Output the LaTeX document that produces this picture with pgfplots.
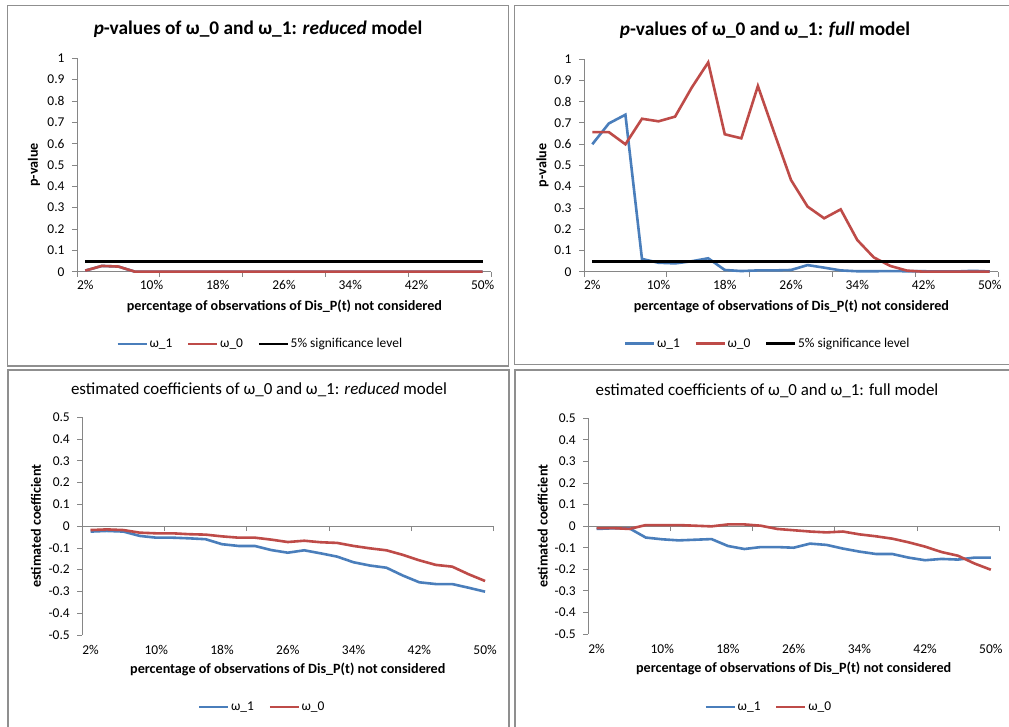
\documentclass[border=0pt]{standalone}
\usepackage{fontspec}
\setmainfont{Carlito}
\usepackage{pgfplots}
\pgfplotsset{compat=1.18}
\usepackage{pgfplotstable}

\definecolor{xlblue}{HTML}{4A7EBB}
\definecolor{xlred}{HTML}{BE4B48}
\definecolor{axgray}{HTML}{868686}
\definecolor{framegray}{HTML}{8F8F8F}

% x = category index (0 -> 2%, 1 -> 4%, ..., 24 -> 50%)
\pgfplotstableread{
x w1 w0
0 0.005 0.005
1 0.027 0.027
2 0.024 0.024
3 0.000 0.000
4 0.000 0.000
5 0.000 0.000
6 0.000 0.000
7 0.000 0.000
8 0.000 0.000
9 0.000 0.000
10 0.000 0.000
11 0.000 0.000
12 0.000 0.000
13 0.000 0.000
14 0.000 0.000
15 0.000 0.000
16 0.000 0.000
17 0.000 0.000
18 0.000 0.000
19 0.000 0.000
20 0.000 0.000
21 0.000 0.000
22 0.000 0.000
23 0.000 0.000
24 0.000 0.000
}\pred

\pgfplotstableread{
x w1 w0
0 0.599 0.656
1 0.697 0.656
2 0.738 0.599
3 0.060 0.719
4 0.042 0.707
5 0.039 0.729
6 0.049 0.865
7 0.063 0.984
8 0.008 0.646
9 0.003 0.627
10 0.006 0.873
11 0.006 0.650
12 0.008 0.431
13 0.031 0.306
14 0.019 0.251
15 0.006 0.293
16 0.002 0.149
17 0.002 0.067
18 0.003 0.027
19 0.002 0.005
20 0.002 0.000
21 0.001 0.000
22 0.001 0.000
23 0.004 0.000
24 0.001 0.000
}\pfull

\pgfplotstableread{
x w1 w0
0 -0.025 -0.018
1 -0.022 -0.015
2 -0.025 -0.018
3 -0.045 -0.030
4 -0.053 -0.033
5 -0.053 -0.033
6 -0.056 -0.037
7 -0.060 -0.039
8 -0.083 -0.047
9 -0.091 -0.053
10 -0.091 -0.053
11 -0.110 -0.062
12 -0.122 -0.073
13 -0.111 -0.067
14 -0.125 -0.074
15 -0.140 -0.077
16 -0.166 -0.091
17 -0.181 -0.102
18 -0.191 -0.111
19 -0.227 -0.132
20 -0.258 -0.157
21 -0.266 -0.178
22 -0.266 -0.186
23 -0.283 -0.221
24 -0.301 -0.252
}\cred

\pgfplotstableread{
x w1 w0
0 -0.013 -0.009
1 -0.010 -0.009
2 -0.010 -0.013
3 -0.053 0.005
4 -0.061 0.005
5 -0.066 0.005
6 -0.063 0.002
7 -0.060 -0.001
8 -0.092 0.008
9 -0.106 0.008
10 -0.097 0.002
11 -0.097 -0.013
12 -0.100 -0.019
13 -0.081 -0.025
14 -0.087 -0.029
15 -0.104 -0.025
16 -0.118 -0.038
17 -0.129 -0.047
18 -0.129 -0.058
19 -0.146 -0.075
20 -0.158 -0.095
21 -0.152 -0.120
22 -0.155 -0.137
23 -0.146 -0.173
24 -0.146 -0.202
}\cfull

\newcommand{\tickfont}{\fontsize{13.5}{15}\selectfont}
\newcommand{\labfont}{\fontsize{14.2}{16}\selectfont\bfseries}

\pgfplotsset{
  xlbase/.style={
    scale only axis,
    xmin=-0.5, xmax=24.5,
    axis y line*=left,
    axis line style={draw=axgray, line width=0.75bp, -},
    tick style={draw=axgray, line width=0.75bp},
    tick align=outside,
    major tick length=5bp,
    ticklabel style={font=\tickfont, text=black},
    xticklabel style={yshift=-5bp},
    yticklabel style={xshift=-4bp},
    label style={font=\labfont},
    legend columns=-1,
    legend cell align=left,
    legend image code/.code={\draw[##1, line width=2.7bp] (0bp,0bp) -- (29bp,0bp);},
    legend style={draw=none, fill=none, font=\tickfont, anchor=center,
      inner sep=0pt,
      nodes={inner xsep=1.5bp},
      /tikz/every even column/.append style={column sep=13bp}},
    clip=false,
  },
  topx/.style={
    axis x line*=bottom,
    xtick={-0.5,4.5,9.5,14.5,19.5,24.5},
    xticklabels={},
    extra x ticks={0,4,8,12,16,20,24},
    extra x tick labels={2\%,10\%,18\%,26\%,34\%,42\%,50\%},
    extra x tick style={major tick length=0pt},
  },
  pvy/.style={
    ymin=0, ymax=1,
    ytick={0,0.1,0.2,0.3,0.4,0.5,0.6,0.7,0.8,0.9,1},
    yticklabels={0,0.1,0.2,0.3,0.4,0.5,0.6,0.7,0.8,0.9,1},
    ylabel={p-value},
  },
  botx/.style={
    axis x line*=bottom,
    x axis line style={draw=none},
    xtick style={draw=none},
    xtick={0,4,8,12,16,20,24},
    xticklabels={2\%,10\%,18\%,26\%,34\%,42\%,50\%},
    xticklabel style={yshift=3bp},
  },
  coy/.style={
    ymin=-0.5, ymax=0.5,
    ytick={-0.5,-0.4,-0.3,-0.2,-0.1,0,0.1,0.2,0.3,0.4,0.5},
    yticklabels={-0.5,-0.4,-0.3,-0.2,-0.1,0,0.1,0.2,0.3,0.4,0.5},
    ylabel={estimated coefficient},
  },
  zeroaxis/.style={
    scale only axis,
    xmin=-0.5, xmax=24.5, ymin=-0.5, ymax=0.5,
    axis x line=middle, axis y line=none,
    x axis line style={draw=axgray, line width=0.75bp, -},
    tick style={draw=axgray, line width=0.75bp},
    xtick={-0.5,4.5,9.5,14.5,19.5,24.5},
    xticklabels={},
    ytick=\empty,
    tick align=outside,
    major tick length=5bp,
  },
  blue line/.style={xlblue, line width=2.6bp},
  red line/.style={xlred, line width=2.6bp},
}

\begin{document}
\begin{tikzpicture}[x=1bp,y=1bp]
\useasboundingbox (0,0) rectangle (1009,727);
\fill[white] (0,0) rectangle (1009,727);

% panel frames
\draw[framegray, line width=1.6bp] (7.5,721.5) rectangle (508.5,361);
\draw[framegray, line width=1.6bp] (1012,721.5) -- (514.5,721.5) -- (514.5,362.5) -- (1012,362.5);
\draw[framegray, line width=1.6bp] (8,-3) -- (8,357) -- (509,357) -- (509,-3);
\draw[framegray, line width=1.6bp] (1012,357) -- (515,357) -- (515,-3);

% titles
\node[font=\fontsize{19.4}{22}\selectfont\bfseries] at (258,698)
  {\textit{p}-values of ω\_0 and ω\_1: \textit{reduced} model};
\node[font=\fontsize{19.4}{22}\selectfont\bfseries] at (765,697)
  {\textit{p}-values of ω\_0 and ω\_1: \textit{full} model};
\node[font=\fontsize{17}{20}\selectfont] at (259,337)
  {estimated coefficients of ω\_0 and ω\_1: \textit{reduced} model};
\node[font=\fontsize{17}{20}\selectfont] at (767,336)
  {estimated coefficients of ω\_0 and ω\_1: full model};

% ---------- panel 1 ----------
\begin{axis}[xlbase, topx, pvy,
  width=414bp, height=213.4bp, at={(77bp,455.3bp)}, anchor=south west,
  xlabel={percentage of observations of Dis\_P(t) not considered},
  xlabel style={at={(axis description cs:0.501,-0.165)}, anchor=center},
  ylabel style={at={(axis description cs:-0.104,0.5)}, anchor=center},
  legend style={at={(axis description cs:0.442,-0.339)}},
]
\addplot[blue line] table[x=x,y=w1] {\pred};
\addplot[red line] table[x=x,y=w0] {\pred};
\addplot[black, line width=3bp] coordinates {(0,0.05) (24,0.05)};
\legend{ω\_1, ω\_0, 5\% significance level}
\end{axis}

% ---------- panel 2 ----------
\begin{axis}[xlbase, topx, pvy,
  width=414bp, height=212.7bp, at={(584bp,455.3bp)}, anchor=south west,
  xlabel={percentage of observations of Dis\_P(t) not considered},
  xlabel style={at={(axis description cs:0.501,-0.164)}, anchor=center},
  ylabel style={at={(axis description cs:-0.1,0.5)}, anchor=center},
  legend style={at={(axis description cs:0.443,-0.339)}},
]
\addplot[blue line] table[x=x,y=w1] {\pfull};
\addplot[red line] table[x=x,y=w0] {\pfull};
\addplot[black, line width=3bp] coordinates {(0,0.05) (24,0.05)};
\legend{ω\_1, ω\_0, 5\% significance level}
\end{axis}

% ---------- panel 3 ----------
\begin{axis}[zeroaxis, width=411bp, height=217.7bp, at={(82.3bp,92bp)}, anchor=south west]
\addplot[draw=none] coordinates {(0,0)};
\end{axis}
\begin{axis}[xlbase, botx, coy,
  width=411bp, height=217.7bp, at={(82.3bp,92bp)}, anchor=south west,
  xlabel={percentage of observations of Dis\_P(t) not considered},
  xlabel style={at={(axis description cs:0.5,-0.156)}, anchor=center},
  ylabel style={at={(axis description cs:-0.113,0.5)}, anchor=center},
  legend style={at={(axis description cs:0.437,-0.331)}},
]
\addplot[blue line] table[x=x,y=w1] {\cred};
\addplot[red line] table[x=x,y=w0] {\cred};
\legend{ω\_1, ω\_0}
\end{axis}

% ---------- panel 4 ----------
\begin{axis}[zeroaxis, width=410.7bp, height=215.7bp, at={(588.3bp,93bp)}, anchor=south west]
\addplot[draw=none] coordinates {(0,0)};
\end{axis}
\begin{axis}[xlbase, botx, coy,
  width=410.7bp, height=215.7bp, at={(588.3bp,93bp)}, anchor=south west,
  xlabel={percentage of observations of Dis\_P(t) not considered},
  xlabel style={at={(axis description cs:0.5,-0.159)}, anchor=center},
  ylabel style={at={(axis description cs:-0.111,0.5)}, anchor=center},
  legend style={at={(axis description cs:0.439,-0.338)}},
]
\addplot[blue line] table[x=x,y=w1] {\cfull};
\addplot[red line] table[x=x,y=w0] {\cfull};
\legend{ω\_1, ω\_0}
\end{axis}
\end{tikzpicture}
\end{document}
